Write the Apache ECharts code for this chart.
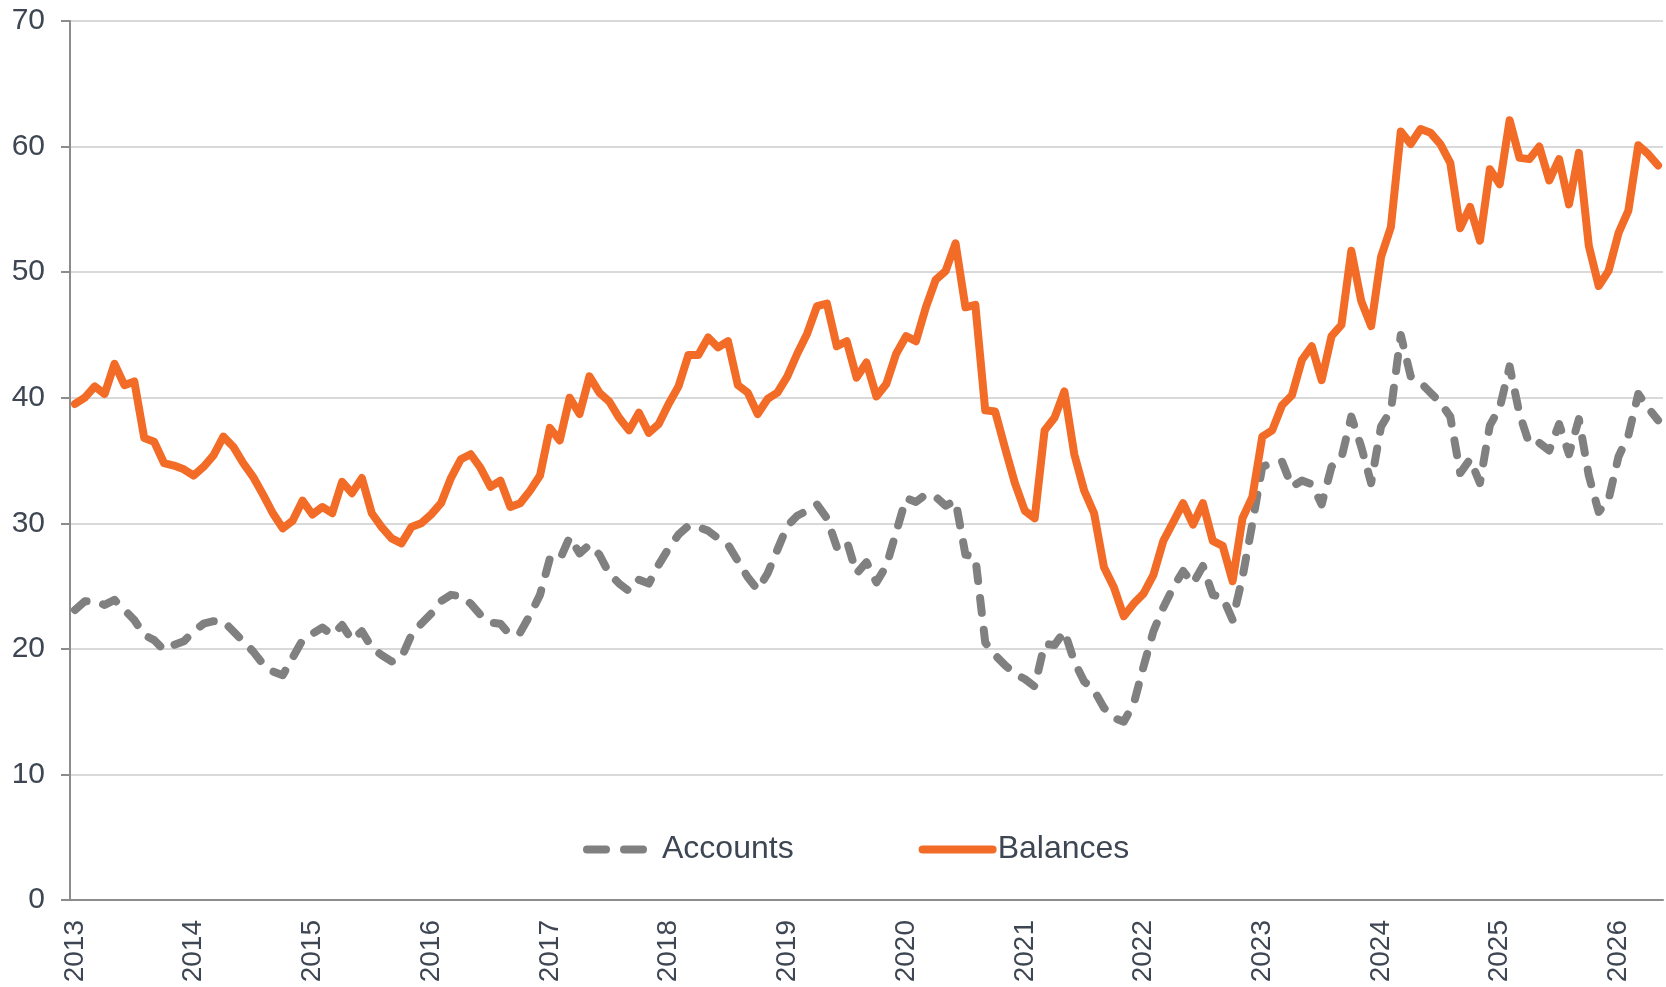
<!DOCTYPE html>
<html>
<head>
<meta charset="utf-8">
<script src="https://cdn.jsdelivr.net/npm/echarts@6/dist/echarts.min.js"></script>
<style>
  html, body { margin: 0; padding: 0; background: #fff; }
  #main { width: 1666px; height: 987px; }
</style>
</head>
<body>
<div id="main"></div>
<script>
// year labels on the x axis (one label every january)
var years = ['2013','2014','2015','2016','2017','2018','2019','2020','2021','2022','2023','2024','2025','2026'];

// monthly values, Jan 2013 .. May 2026
var accounts = [
  23.1,23.8,23.8,23.5,23.9,23.1,22.3,21.1,20.7,19.9,20.3,20.6,
  21.4,22.0,22.2,22.2,21.4,20.6,19.8,18.8,18.2,17.9,19.3,20.7,
  21.2,21.7,21.1,21.9,20.7,21.4,20.1,19.5,19.0,19.3,21.1,22.0,
  22.8,23.8,24.3,24.2,23.6,22.7,22.1,22.0,21.1,21.3,22.7,24.3,
  27.2,27.1,28.9,27.6,28.3,27.5,26.0,25.2,24.6,25.5,25.2,26.7,
  28.0,29.1,29.8,29.7,29.4,28.8,28.3,27.0,25.7,24.7,26.0,27.9,
  29.8,30.6,31.0,31.5,30.4,28.1,28.6,26.0,26.9,25.3,26.6,29.3,
  32.0,31.7,32.3,32.1,31.4,31.8,27.5,27.3,20.5,19.5,18.7,18.0,
  17.6,17.0,20.4,20.3,21.4,19.0,17.4,16.7,15.3,14.5,14.2,15.6,
  18.6,21.4,23.3,24.9,26.2,25.2,26.6,24.3,24.1,22.3,25.7,30.0,
  34.5,34.8,34.9,32.9,33.4,33.1,31.5,34.5,35.2,38.5,36.1,33.2,
  37.7,39.0,45.0,41.7,41.2,40.4,39.6,38.5,34.0,35.1,33.2,37.8,
  39.2,42.5,38.7,36.3,36.4,35.8,37.9,35.5,38.3,33.8,30.9,31.9,
  35.3,37.0,40.3,39.2,38.2
];
var balances = [
  39.5,40.0,40.9,40.3,42.7,41.0,41.3,36.8,36.5,34.8,34.6,34.3,
  33.8,34.5,35.4,36.9,36.1,34.8,33.7,32.3,30.8,29.6,30.2,31.8,
  30.7,31.3,30.8,33.3,32.4,33.6,30.8,29.7,28.8,28.4,29.7,30.0,
  30.7,31.6,33.6,35.1,35.5,34.4,32.9,33.4,31.3,31.6,32.6,33.8,
  37.6,36.6,40.0,38.7,41.7,40.4,39.7,38.4,37.4,38.8,37.2,37.9,
  39.5,40.9,43.4,43.4,44.8,44.0,44.5,41.0,40.4,38.7,39.9,40.4,
  41.7,43.5,45.1,47.3,47.5,44.1,44.5,41.6,42.8,40.1,41.1,43.5,
  44.9,44.5,47.2,49.4,50.1,52.3,47.2,47.4,39.0,38.9,36.0,33.2,
  31.0,30.4,37.4,38.4,40.5,35.5,32.6,30.8,26.5,24.9,22.6,23.6,
  24.4,25.9,28.6,30.1,31.6,29.9,31.6,28.6,28.2,25.4,30.4,32.1,
  36.9,37.4,39.4,40.2,43.0,44.1,41.4,44.9,45.8,51.7,47.7,45.7,
  51.2,53.6,61.2,60.2,61.4,61.1,60.2,58.7,53.5,55.2,52.5,58.2,
  57.0,62.1,59.1,59.0,60.0,57.3,59.0,55.4,59.5,52.1,48.9,50.1,
  53.1,54.9,60.1,59.4,58.5
];

// month categories built from the years
var months = [];
for (var i = 0; i < balances.length; i++) {
  months.push(years[Math.floor(i / 12)] + '-' + ((i % 12) + 1));
}

var txt = '#3d4652';
var axisGrey = '#8c8c8c';
var grey = '#808080';
var orange = '#f26b27';

var myChart = echarts.init(document.getElementById('main'));

option = {
  animation: false,
  textStyle: { fontFamily: '"Liberation Sans", Arial, sans-serif' },
  grid: { left: 70, right: 3, top: 21, bottom: 87, outerBoundsMode: 'none' },
  legend: {
    left: 583,
    top: 832,
    padding: 0,
    itemWidth: 70,
    itemHeight: 10,
    itemGap: 125,
    itemStyle: { opacity: 0 },
    lineStyle: { width: 8, cap: 'round' },
    textStyle: { fontSize: 32, color: txt, lineHeight: 35 },
    data: [
      { name: 'Accounts', lineStyle: { width: 8, type: [19, 18], cap: 'round' } },
      { name: 'Balances' }
    ]
  },
  xAxis: {
    type: 'category',
    data: months,
    boundaryGap: true,
    axisLine: { lineStyle: { color: axisGrey, width: 2 } },
    axisTick: { interval: 0, length: 7, lineStyle: { color: axisGrey, width: 1.5 } },
    axisLabel: {
      rotate: 90,
      margin: 20,
      fontSize: 28,
      color: txt,
      interval: function (idx) { return idx % 12 === 0; },
      formatter: function (v) { return v.split('-')[0]; }
    },
    splitLine: { show: false }
  },
  yAxis: {
    type: 'value',
    min: 0,
    max: 70,
    interval: 10,
    axisLine: { show: true, lineStyle: { color: axisGrey, width: 2 } },
    axisTick: { show: true, length: 9, lineStyle: { color: axisGrey, width: 2 } },
    axisLabel: { fontSize: 30, color: txt, margin: 25 },
    splitLine: { lineStyle: { color: '#d9d9d9', width: 2 } }
  },
  series: [{
    name: 'Accounts',
    type: 'line',
    data: accounts,
    symbol: 'none',
    color: grey,
    lineStyle: { color: grey, width: 8, type: [15, 17], cap: 'round', join: 'round' }
  }, {
    name: 'Balances',
    type: 'line',
    data: balances,
    symbol: 'none',
    color: orange,
    lineStyle: { color: orange, width: 8, cap: 'round', join: 'round' }
  }]
};

myChart.setOption(option);
</script>
</body>
</html>
